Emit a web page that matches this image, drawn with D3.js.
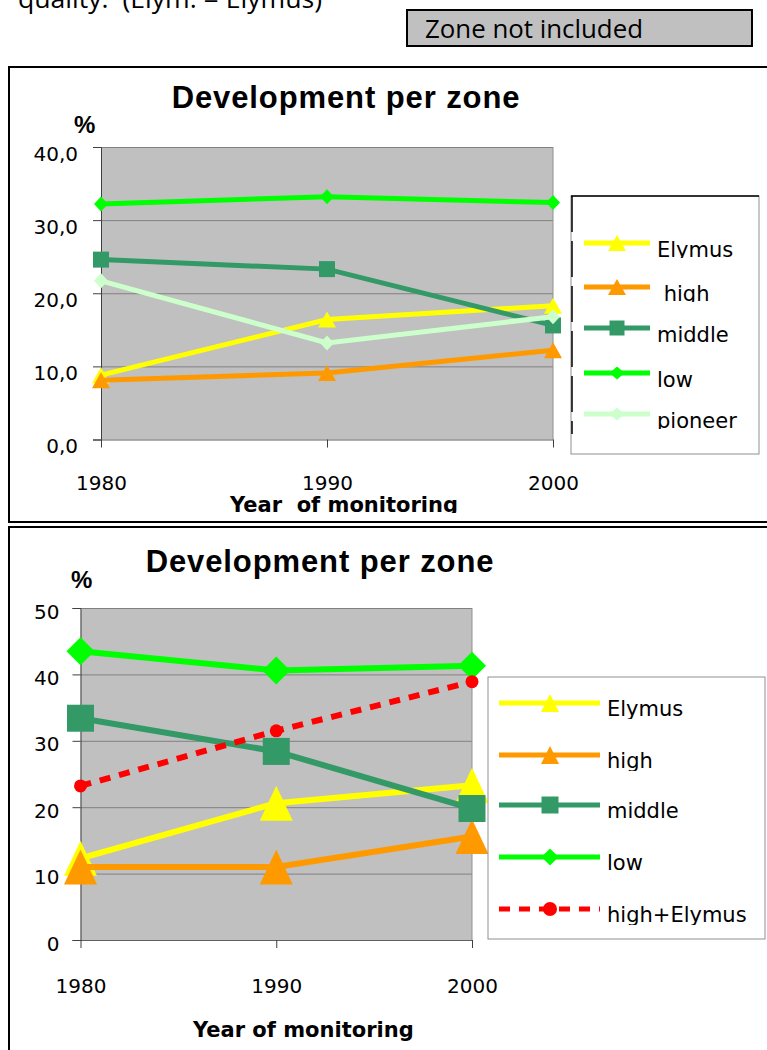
<!DOCTYPE html>
<html>
<head>
<meta charset="utf-8">
<script src="https://cdn.jsdelivr.net/npm/d3@7"></script>
<style>
  body { margin: 0; background: #fff; }
  text { white-space: pre; }
</style>
</head>
<body>
<div id="container"></div>
<script>
// years on the category axis (both charts)
const years = [1980, 1990, 2000];

// upper chart
const topNames = ["Elymus", " high", "middle", "low", "pioneer"];
const topElymus = [8.8, 16.4, 18.3];
const topHigh = [8.1, 9.1, 12.2];
const topMiddle = [24.6, 23.3, 15.6];
const topLow = [32.2, 33.2, 32.4];
const topPioneer = [21.7, 13.2, 16.8];
const topTicks = [0, 10, 20, 30, 40];

// lower chart
const botNames = ["Elymus", "high", "middle", "low", "high+Elymus"];
const botElymus = [12.3, 20.6, 23.3];
const botHigh = [11.0, 11.0, 15.6];
const botMiddle = [33.4, 28.4, 19.8];
const botLow = [43.5, 40.6, 41.3];
const botHighElymus = [23.2, 31.5, 38.9];
const botTicks = [0, 10, 20, 30, 40, 50];

const headerText = "quality:  (Elym. = Elymus)";
const boxText = "Zone not included";
const chartTitle = "Development per zone";

const width = 767;
const height = 1050;

const svg = d3.select("#container")
    .append("svg")
    .attr("width", width)
    .attr("height", height);

const defs = svg.append("defs");
let clipId = 0;
function clipRect(x, y, w, h) {
    const id = "clip" + (clipId++);
    defs.append("clipPath").attr("id", id)
        .append("rect").attr("x", x).attr("y", y).attr("width", w).attr("height", h);
    return `url(#${id})`;
}

// marker shapes, centred on 0,0
function markerPath(shape, w, h) {
    if (shape === "tri") return `M0,${-h / 2}L${w / 2},${h / 2}L${-w / 2},${h / 2}Z`;
    if (shape === "square") return `M${-w / 2},${-h / 2}h${w}v${h}h${-w}Z`;
    if (shape === "diamond") return `M0,${-h / 2}L${w / 2},0L0,${h / 2}L${-w / 2},0Z`;
    return d3.symbol().type(d3.symbolCircle).size(Math.PI * (w / 2) * (w / 2))();
}

// page header bits
svg.append("text")
    .attr("x", 18).attr("y", 8)
    .attr("font-family", "Open Sans").attr("font-size", 26)
    .attr("textLength", 304).attr("lengthAdjust", "spacingAndGlyphs")
    .text(headerText);

svg.append("rect")
    .attr("x", 407).attr("y", 10).attr("width", 345).attr("height", 36)
    .attr("fill", "#c0c0c0").attr("stroke", "#000").attr("stroke-width", 2);
svg.append("text")
    .attr("x", 425).attr("y", 38)
    .attr("font-family", "Open Sans").attr("font-size", 25)
    .attr("textLength", 218).attr("lengthAdjust", "spacingAndGlyphs")
    .text(boxText);

function drawChart(cfg) {
    const g = svg.append("g");

    // panel frame
    g.append("rect")
        .attr("x", cfg.frame[0]).attr("y", cfg.frame[1])
        .attr("width", cfg.frame[2]).attr("height", cfg.frame[3])
        .attr("fill", "#fff").attr("stroke", "#000").attr("stroke-width", 2);

    const x = d3.scalePoint().domain(years).range([cfg.plot[0], cfg.plot[1]]);
    const y = d3.scaleLinear().domain([0, cfg.ticks[cfg.ticks.length - 1]]).range([cfg.plot[2], cfg.plot[3]]);

    // grey plot area
    g.append("rect")
        .attr("x", cfg.plot[0]).attr("y", cfg.plot[3])
        .attr("width", cfg.plot[1] - cfg.plot[0]).attr("height", cfg.plot[2] - cfg.plot[3])
        .attr("fill", "#c0c0c0");

    // gridlines
    g.append("g")
        .attr("transform", `translate(${cfg.plot[0]},0)`)
        .call(d3.axisLeft(y).tickValues(cfg.ticks.slice(1)).tickSize(-(cfg.plot[1] - cfg.plot[0])).tickFormat(""))
        .call(a => a.select(".domain").remove())
        .call(a => a.selectAll("line").attr("stroke", "#808080"));

    // right border of plot
    g.append("line")
        .attr("x1", cfg.plot[1]).attr("x2", cfg.plot[1])
        .attr("y1", cfg.plot[3]).attr("y2", cfg.plot[2])
        .attr("stroke", "#909090");

    // y axis
    g.append("g")
        .attr("transform", `translate(${cfg.plot[0]},0)`)
        .call(d3.axisLeft(y).tickValues(cfg.ticks).tickSize(8).tickPadding(cfg.yPad).tickFormat(cfg.fmt))
        .call(a => a.select(".domain").attr("stroke", "#404040"))
        .call(a => a.selectAll("line").attr("stroke", "#404040"))
        .call(a => a.selectAll("text")
            .attr("font-family", "DejaVu Sans").attr("font-size", 20).attr("fill", "#000")
            .attr("dy", cfg.yDy));

    // x axis
    g.append("g")
        .attr("transform", `translate(0,${cfg.plot[2]})`)
        .call(d3.axisBottom(x).tickSize(8).tickSizeOuter(0).tickPadding(cfg.xPad))
        .call(a => a.select(".domain").attr("stroke", "#606060"))
        .call(a => a.selectAll("line").attr("stroke", "#404040"))
        .call(a => a.selectAll("text")
            .attr("font-family", "DejaVu Sans").attr("font-size", 20).attr("fill", "#000"));

    // titles
    g.append("text")
        .attr("x", cfg.titleX).attr("y", cfg.titleY)
        .attr("text-anchor", "middle")
        .attr("font-family", "Liberation Sans").attr("font-weight", "bold")
        .attr("font-size", 31).attr("letter-spacing", 0.9)
        .text(chartTitle);
    g.append("text")
        .attr("x", cfg.pctX).attr("y", cfg.pctY)
        .attr("font-family", "Liberation Sans").attr("font-weight", "bold").attr("font-size", 24)
        .text("%");
    g.append("text")
        .attr("x", cfg.xTitleX).attr("y", cfg.xTitleY)
        .attr("font-family", "DejaVu Sans").attr("font-weight", "bold").attr("font-size", 21)
        .attr("clip-path", cfg.xTitleClip || null)
        .text(cfg.xTitle);

    // series
    const line = d3.line().x((d, i) => x(years[i])).y(d => y(d));
    cfg.series.forEach(s => {
        const sg = g.append("g");
        sg.append("path")
            .attr("d", line(s.values))
            .attr("fill", "none").attr("stroke", s.color)
            .attr("stroke-width", cfg.lineW)
            .attr("stroke-dasharray", s.dash || null);
        sg.selectAll("path.m")
            .data(s.values)
            .join("path")
            .attr("class", "m")
            .attr("transform", (d, i) => `translate(${x(years[i])},${y(d)})`)
            .attr("d", markerPath(s.shape, s.mw, s.mh))
            .attr("fill", s.color);
    });

    // legend
    const L = cfg.legend;
    const lg = g.append("g");
    lg.append("rect")
        .attr("x", L.box[0]).attr("y", L.box[1]).attr("width", L.box[2]).attr("height", L.box[3])
        .attr("fill", "#fff").attr("stroke", "#909090");
    if (L.darkEdges) {
        lg.append("line")
            .attr("x1", L.box[0]).attr("x2", L.box[0] + L.box[2])
            .attr("y1", L.box[1]).attr("y2", L.box[1])
            .attr("stroke", "#000").attr("stroke-width", 1.5);
        lg.append("line")
            .attr("x1", L.box[0] + 1).attr("x2", L.box[0] + 1)
            .attr("y1", L.box[1]).attr("y2", L.box[1] + L.box[3] - 20)
            .attr("stroke", "#000").attr("stroke-width", 1.5)
            .attr("stroke-dasharray", "36,9");
    }
    cfg.series.forEach((s, i) => {
        const ly = L.rows[i];
        lg.append("line")
            .attr("x1", L.lineX[0]).attr("x2", L.lineX[1])
            .attr("y1", ly).attr("y2", ly)
            .attr("stroke", s.color).attr("stroke-width", L.lineW)
            .attr("stroke-dasharray", s.dash || null);
        lg.append("path")
            .attr("transform", `translate(${L.markX},${ly})`)
            .attr("d", markerPath(s.shape, s.lw, s.lh))
            .attr("fill", s.color);
        const base = ly + L.baseOff;
        lg.append("text")
            .attr("x", L.textX).attr("y", base)
            .attr("font-family", "DejaVu Sans").attr("font-size", 21)
            .attr("clip-path", clipRect(L.textX - 5, base - 30, 200, 30 + L.clipBelow))
            .text(s.name);
    });
}

drawChart({
    frame: [9, 67, 800, 455],
    plot: [101, 553, 439.5, 147],
    ticks: topTicks,
    fmt: d => d3.format(".1f")(d).replace(".", ","),
    yPad: 15, yDy: "0.65em", xPad: 28,
    titleX: 346, titleY: 108,
    pctX: 74, pctY: 133,
    xTitle: "Year  of monitoring", xTitleX: 230, xTitleY: 512,
    xTitleClip: clipRect(0, 470, 767, 43),
    lineW: 5,
    series: [
        { name: topNames[0], values: topElymus, color: "#ffff00", shape: "tri", mw: 18, mh: 16, lw: 18, lh: 16 },
        { name: topNames[1], values: topHigh, color: "#ff9900", shape: "tri", mw: 18, mh: 16, lw: 18, lh: 16 },
        { name: topNames[2], values: topMiddle, color: "#339966", shape: "square", mw: 16, mh: 16, lw: 15, lh: 15 },
        { name: topNames[3], values: topLow, color: "#00ff00", shape: "diamond", mw: 14, mh: 15, lw: 15, lh: 13 },
        { name: topNames[4], values: topPioneer, color: "#ccffcc", shape: "diamond", mw: 14, mh: 15, lw: 15, lh: 13 }
    ],
    legend: {
        box: [571, 196, 188, 258],
        darkEdges: true,
        rows: [243, 287, 328, 373, 414],
        lineX: [584, 650], markX: 617, lineW: 5,
        textX: 657, baseOff: 14, clipBelow: 1
    }
});

drawChart({
    frame: [9, 527, 800, 600],
    plot: [80.5, 472, 940, 608],
    ticks: botTicks,
    fmt: d3.format("d"),
    yPad: 13, yDy: "0.5em", xPad: 31,
    titleX: 320, titleY: 572,
    pctX: 71, pctY: 588,
    xTitle: "Year of monitoring", xTitleX: 193, xTitleY: 1037,
    lineW: 6,
    series: [
        { name: botNames[0], values: botElymus, color: "#ffff00", shape: "tri", mw: 33, mh: 35, lw: 18, lh: 18 },
        { name: botNames[1], values: botHigh, color: "#ff9900", shape: "tri", mw: 33, mh: 35, lw: 18, lh: 18 },
        { name: botNames[2], values: botMiddle, color: "#339966", shape: "square", mw: 27, mh: 27, lw: 17, lh: 17 },
        { name: botNames[3], values: botLow, color: "#00ff00", shape: "diamond", mw: 28, mh: 28, lw: 17, lh: 17 },
        { name: botNames[4], values: botHighElymus, color: "#ff0000", shape: "circle", mw: 13, mh: 13, lw: 14, lh: 14, dash: "11,9" }
    ],
    legend: {
        box: [488, 677, 277, 262],
        darkEdges: false,
        rows: [703, 755, 805, 857, 909],
        lineX: [499, 600], markX: 550, lineW: 5,
        textX: 607, baseOff: 13, clipBelow: 3
    }
});
</script>
</body>
</html>
